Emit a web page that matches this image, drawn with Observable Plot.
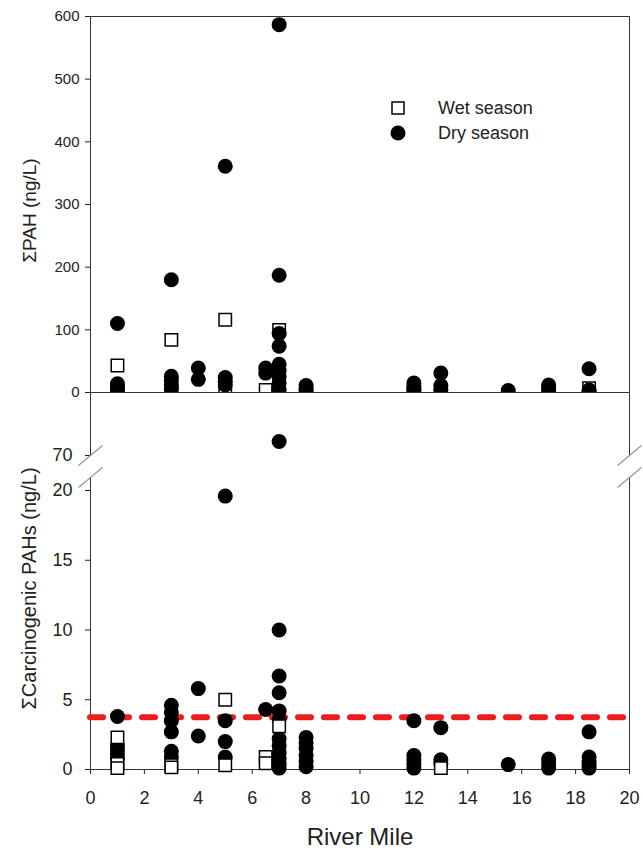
<!DOCTYPE html>
<html><head><meta charset="utf-8">
<script src="https://cdn.jsdelivr.net/npm/d3@7"></script>
<script src="https://cdn.jsdelivr.net/npm/@observablehq/plot@0.6"></script>
<style>
body{margin:0;background:#fff;}
#chart{position:relative;width:643px;height:854px;font-family:"Liberation Sans",Arial,sans-serif;}
#chart > svg{position:absolute;left:0;}
</style></head><body><div id="chart"></div>
<script>
// ---- axis / tick definitions ----
const riverMileTicks = [0, 2, 4, 6, 8, 10, 12, 14, 16, 18, 20];
const pahTicks = [0, 100, 200, 300, 400, 500, 600];
const carcTicks = [0, 5, 10, 15, 20, 70];
const carcLowerMax = 20;        // lower part of the broken axis: 0–20
const carcLowerAxisEnd = 20.93; // where the lower axis line stops (break)
const carcUpperMin = 70;        // upper part of the broken axis starts at 70
const carcTop = 74.5;
const threshold = 3.75;          // red dashed guideline (ng/L)
const legendItems = ["Wet season", "Dry season"];
const xTitle = "River Mile";
const pahTitle = "ΣPAH (ng/L)";
const carcTitle = "ΣCarcinogenic PAHs (ng/L)";

// ---- ΣPAH (ng/L): [river mile, value] ----
const pahWet = [[1,43],[1,2],[3,84],[3,3],[5,116],[5,3],[6.5,4],[7,100],[13,2],[18.5,7]];
const pahDry = [
  [1,110],[1,14],[1,8],[1,3],
  [3,180],[3,26],[3,19],[3,12],[3,6],
  [4,39],[4,21],
  [5,361],[5,24],[5,18],[5,12],
  [6.5,39],[6.5,31],
  [7,587],[7,187],[7,94],[7,74],[7,45],[7,35],[7,25],[7,15],[7,5],
  [8,11],[8,6],[8,3],
  [12,15],[12,10],[12,6],[12,3],
  [13,31],[13,11],[13,5],
  [15.5,3],
  [17,12],[17,7],[17,3],
  [18.5,38],[18.5,4],[18.5,1]
];

// ---- ΣCarcinogenic PAHs (ng/L): [river mile, value] ----
const carcWet = [[1,2.3],[1,0.4],[1,0.1],[3,0.3],[3,0.15],[5,5.0],[5,0.3],[6.5,0.9],[6.5,0.45],[7,3.1],[13,0.1]];
const carcDry = [
  [1,3.8],[1,1.7],[1,1.4],[1,1.1],[1,0.8],
  [3,4.6],[3,4.1],[3,3.5],[3,2.7],[3,1.3],[3,0.9],
  [4,5.8],[4,2.4],
  [5,19.6],[5,3.5],[5,2.0],[5,0.9],
  [6.5,4.3],
  [7,71],[7,10],[7,6.7],[7,5.5],[7,4.2],[7,3.6],[7,2.2],[7,1.7],[7,1.2],[7,0.8],[7,0.4],[7,0.1],
  [8,2.3],[8,1.9],[8,1.5],[8,1.0],[8,0.6],[8,0.2],
  [12,3.5],[12,1.0],[12,0.7],[12,0.4],[12,0.1],
  [13,3.0],[13,0.7],[13,0.4],
  [15.5,0.35],
  [17,0.75],[17,0.4],[17,0.1],
  [18.5,2.7],[18.5,0.9],[18.5,0.6],[18.5,0.3],[18.5,0.1]
];

const font = '"Liberation Sans", Arial, sans-serif';
const mx = d => d[0], my = d => d[1];
const sides = [0, 20];
const slash = {draw(ctx) { ctx.moveTo(-12, 10); ctx.lineTo(12, -10); }};
const inLower = d => d[1] <= carcLowerMax;
const inUpper = d => d[1] >= carcUpperMin;
const intFmt = d3.format("d");

// ---------- top panel ----------
const topPlot = Plot.plot({
  width: 643, height: 400,
  marginTop: 16, marginBottom: 8, marginLeft: 90, marginRight: 14,
  style: {background: "transparent", fontSize: "15px", fontFamily: font, color: "#222", overflow: "visible"},
  x: {domain: [0, 20], axis: null},
  y: {domain: [0, 600], ticks: pahTicks, tickFormat: intFmt, tickSize: 5, tickPadding: 6, label: null},
  marks: [
    Plot.frame({stroke: "#333"}),
    Plot.dot(pahWet, {x: mx, y: my, symbol: "square", r: 7, fill: "white", stroke: "black", strokeWidth: 1.5, clip: true}),
    Plot.dot(pahDry, {x: mx, y: my, symbol: "circle", r: 7.5, fill: "black", stroke: "none", clip: true}),
    Plot.text([pahTitle], {frameAnchor: "left", textAnchor: "middle", lineAnchor: "middle", rotate: -90, dx: -61, dy: 6, fontSize: 19, fill: "#222"})
  ]
});
topPlot.style.top = "0px";

// ---------- bottom panel, upper segment (70+) ----------
const upperPlot = Plot.plot({
  width: 643, height: 100,
  marginTop: 12, marginBottom: 25, marginLeft: 90, marginRight: 14,
  style: {background: "transparent", fontSize: "18px", fontFamily: font, color: "#222", overflow: "visible"},
  x: {domain: [0, 20], axis: null},
  y: {domain: [carcUpperMin, carcTop], ticks: carcTicks.filter(t => t >= carcUpperMin), tickFormat: intFmt, tickSize: 5, tickPadding: 13, label: null},
  marks: [
    Plot.ruleX(sides, {x: d => d, y1: carcUpperMin, y2: carcTop, stroke: "#333"}),
    Plot.dot(sides, {x: d => d, y: () => carcUpperMin, symbol: slash, fill: "none", stroke: "#999", strokeWidth: 1.3}),
    Plot.dot(carcDry.filter(inUpper), {x: mx, y: my, symbol: "circle", r: 7.5, fill: "black", stroke: "none"}),
    Plot.dot(carcWet.filter(inUpper), {x: mx, y: my, symbol: "square", r: 7, fill: "white", stroke: "black", strokeWidth: 1.5})
  ]
});
upperPlot.style.top = "380px";

// ---------- bottom panel, lower segment (0–20) ----------
const lowerPlot = Plot.plot({
  width: 643, height: 474,
  marginTop: 110, marginBottom: 85, marginLeft: 90, marginRight: 14,
  style: {background: "transparent", fontSize: "18px", fontFamily: font, color: "#222", overflow: "visible"},
  x: {domain: [0, 20], ticks: riverMileTicks, tickFormat: intFmt, tickSize: 5, tickPadding: 17, label: null},
  y: {domain: [0, carcLowerMax], ticks: carcTicks.filter(t => t <= carcLowerMax), tickFormat: intFmt, tickSize: 5, tickPadding: 13, label: null},
  marks: [
    Plot.ruleY([0], {stroke: "#333"}),
    Plot.ruleX(sides, {x: d => d, y1: 0, y2: carcLowerAxisEnd, stroke: "#333"}),
    Plot.dot(sides, {x: d => d, y: () => carcLowerAxisEnd, symbol: slash, fill: "none", stroke: "#999", strokeWidth: 1.3}),
    Plot.ruleY([threshold], {stroke: "#ee1c1c", strokeWidth: 6, strokeDasharray: "13,13", strokeLinecap: "round"}),
    Plot.dot(carcDry.filter(inLower), {x: mx, y: my, symbol: "circle", r: 7.5, fill: "black", stroke: "none"}),
    Plot.dot(carcWet.filter(inLower), {x: mx, y: my, symbol: "square", r: 7, fill: "white", stroke: "black", strokeWidth: 1.5}),
    Plot.text([carcTitle], {frameAnchor: "left", textAnchor: "middle", lineAnchor: "middle", rotate: -90, dx: -61, dy: -41.5, fontSize: 20, fill: "#222"}),
    Plot.text([xTitle], {frameAnchor: "bottom", textAnchor: "middle", lineAnchor: "middle", dy: 68, fontSize: 24, fill: "#222"})
  ]
});
lowerPlot.style.top = "380px";

const chart = document.getElementById("chart");
chart.appendChild(topPlot);
chart.appendChild(upperPlot);
chart.appendChild(lowerPlot);

// ---------- legend ----------
const leg = d3.select(chart).append("svg")
  .attr("width", 200).attr("height", 60)
  .style("left", "380px").style("top", "90px")
  .style("position", "absolute").style("overflow", "visible");
leg.append("rect").attr("x", 12).attr("y", 12).attr("width", 12).attr("height", 12)
  .attr("fill", "white").attr("stroke", "black").attr("stroke-width", 1.5);
leg.append("circle").attr("cx", 18).attr("cy", 43).attr("r", 7.5).attr("fill", "black");
leg.selectAll("text.l").data(legendItems).join("text")
  .attr("class", "l")
  .attr("x", 58).attr("y", (d, i) => 18 + i * 25)
  .attr("dy", "0.35em")
  .attr("font-size", 18).attr("font-family", font).attr("fill", "#222")
  .text(d => d);
</script></body></html>
